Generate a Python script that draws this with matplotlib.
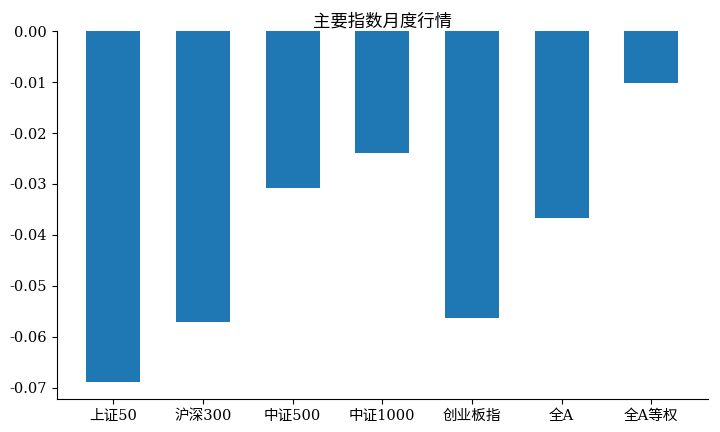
import matplotlib
matplotlib.use("Agg")
import matplotlib.pyplot as plt

plt.rcParams['font.family'] = ['DejaVu Serif', 'Noto Sans CJK SC', 'DejaVu Sans']
plt.rcParams['axes.unicode_minus'] = False

# =========================
# Data
# =========================
names = ["上证50", "沪深300", "中证500", "中证1000", "创业板指", "全A", "全A等权"]
returns = [-0.0688, -0.0571, -0.0308, -0.0239, -0.0563, -0.0367, -0.0101]

# =========================
# Plot
# =========================
fig = plt.figure(figsize=(7.2, 4.32), dpi=100)
ax = fig.add_axes([0.079, 0.076, 0.904, 0.852])

ax.bar(range(len(names)), returns, width=0.6, color="#1f77b4")
ax.set_xticks(range(len(names)))
ax.set_xticklabels(names, fontsize=10.5)
ax.tick_params(axis="y", labelsize=10.5)
ax.yaxis.set_major_formatter(matplotlib.ticker.FormatStrFormatter("%.2f"))

ax.spines["top"].set_visible(False)
ax.spines["right"].set_visible(False)
ax.set_title("主要指数月度行情", fontsize=12.5, pad=3)

fig.savefig("out.png", dpi=100)
